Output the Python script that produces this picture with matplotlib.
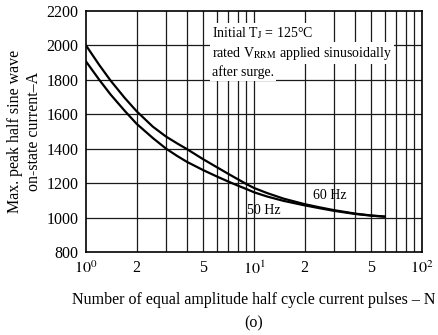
import matplotlib
matplotlib.use("Agg")
import matplotlib.pyplot as plt
from matplotlib.ticker import FixedLocator, FixedFormatter

plt.rcParams["font.family"] = ["Liberation Serif", "DejaVu Serif"]
plt.rcParams["mathtext.fontset"] = "stix"

# surge curves
pulses = [1, 1.2, 1.4, 1.7, 2, 2.5, 3, 3.5, 4, 5, 6, 7, 8, 9, 10, 12, 15, 20, 25, 30, 40, 50, 60]
amps_60hz = [2000, 1886, 1796, 1695, 1618, 1528, 1470, 1430, 1397, 1338, 1293, 1255, 1223, 1195, 1172,
             1142, 1110, 1078, 1058, 1043, 1023, 1012, 1006]
amps_50hz = [1907, 1800, 1715, 1620, 1545, 1462, 1400, 1357, 1323, 1275, 1239, 1210, 1186, 1166, 1147,
             1122, 1097, 1071, 1053, 1039, 1021, 1011, 1005]

y_ticks = [800, 1000, 1200, 1400, 1600, 1800, 2000, 2200]
major_x = [1, 10, 100]
major_x_labels = [r"$10^0$", r"$10^1$", r"$10^2$"]
minor_x = [2, 5, 20, 50]
minor_x_labels = ["2", "5", "2", "5"]

fig = plt.figure(figsize=(4.38, 3.35), dpi=100)
ax = fig.add_axes([86 / 438, 1 - 252 / 335, 336 / 438, 241 / 335])

ax.plot(pulses, amps_60hz, color="black", lw=1.6, zorder=3, solid_joinstyle="round")
ax.plot(pulses, amps_50hz, color="black", lw=1.6, zorder=3, solid_joinstyle="round")

ax.set_xscale("log")
ax.set_xlim(1, 100)
ax.set_ylim(800, 2200)

ax.xaxis.set_major_locator(FixedLocator(major_x))
ax.xaxis.set_major_formatter(FixedFormatter(major_x_labels))
ax.xaxis.set_minor_locator(FixedLocator(minor_x))
ax.xaxis.set_minor_formatter(FixedFormatter(minor_x_labels))
ax.set_yticks(y_ticks)

# log grid at every integer
for dec in (1, 10):
    for k in range(2, 11):
        ax.axvline(dec * k, color="#1a1a1a", lw=0.9, zorder=1)
for v in y_ticks[1:-1]:
    ax.axhline(v, color="#1a1a1a", lw=0.9, zorder=1)

ax.tick_params(which="both", length=0, labelsize=11.5)
ax.tick_params(axis="y", pad=5.5)
ax.tick_params(axis="x", which="both", pad=6)
for sp in ax.spines.values():
    sp.set_linewidth(1.2)

ax.set_ylabel("Max. peak half sine wave\non-state current\u2013A", fontsize=11.5, labelpad=3,
              linespacing=1.25)
ax.set_xlabel("Number of equal amplitude half cycle current pulses \u2013 N", fontsize=11.5, labelpad=10)
fig.text(254 / 438, 1 - 323 / 335, "(o)", ha="center", va="center", fontsize=11.5)

box = dict(facecolor="white", edgecolor="none", pad=1.5)
ax.text(5.6, 2073, r"Initial T$_\mathrm{J}$ = 125°C", fontsize=10, va="center", bbox=box, zorder=4)
ax.text(5.6, 1956, r"rated V$_\mathrm{RRM}$ applied sinusoidally", fontsize=10, va="center", bbox=box, zorder=4)
ax.text(5.6, 1847, "after surge.", fontsize=10, va="center", bbox=box, zorder=4)

ax.text(22.5, 1130, "60 Hz", fontsize=10, va="center", zorder=4)
ax.text(9.1, 1040, "50 Hz", fontsize=10, va="center", zorder=4)

fig.savefig("out.png", dpi=100)
